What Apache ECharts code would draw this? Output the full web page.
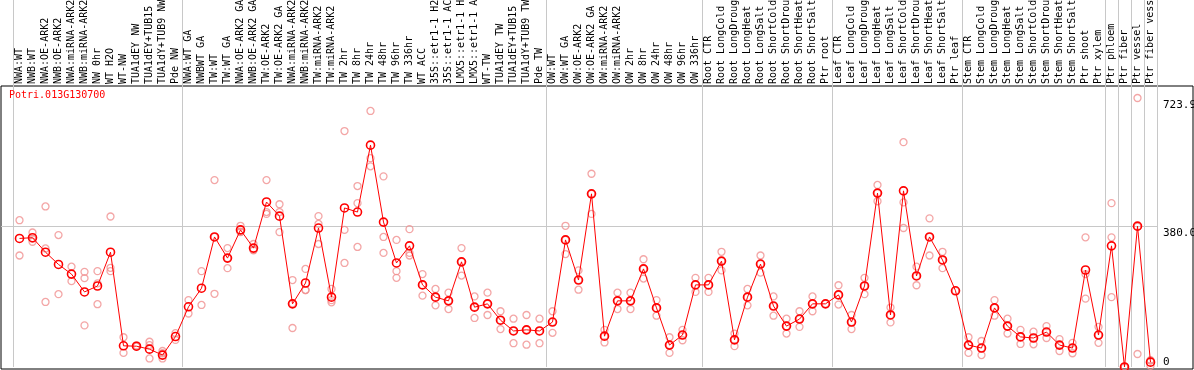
<!DOCTYPE html>
<html>
<head>
<meta charset="utf-8">
<script src="https://cdn.jsdelivr.net/npm/echarts@6/dist/echarts.min.js"></script>
<style>html,body{margin:0;padding:0;background:#fff}#c{width:1194px;height:370px}</style>
</head>
<body>
<div id="c"></div>
<script>
const geneId = 'Potri.013G130700';
const categories = [
 'NWA:WT','NWB:WT','NWA:OE-ARK2','NWB:OE-ARK2','NWA:miRNA-ARK2','NWB:miRNA-ARK2','NW 0hr','WT H2O','WT-NW','TUA1dEY NW','TUA1dEY+TUB15 NW','TUA1dY+TUB9 NW','Pde NW',
 'NWA:WT GA','NWBWT GA','TW:WT','TW:WT GA','NWA:OE-ARK2 GA','NWB:OE-ARK2 GA','TW:OE-ARK2','TW:OE-ARK2 GA','NWA:miRNA-ARK2 GA','NWB:miRNA-ARK2 GA','TW:miRNA-ARK2','TW:miRNA-ARK2 GA','TW 2hr','TW 8hr','TW 24hr','TW 48hr','TW 96hr','TW 336hr','WT ACC','35S::etr1-1 H2O','35S::etr1-1 ACC','LMX5::etr1-1 H2O','LMX5::etr1-1 ACC','WT-TW','TUA1dEY TW','TUA1dEY+TUB15 TW','TUA1dY+TUB9 TW','Pde TW',
 'OW:WT','OW:WT GA','OW:OE-ARK2','OW:OE-ARK2 GA','OW:miRNA-ARK2','OW:miRNA-ARK2 GA','OW 2hr','OW 8hr','OW 24hr','OW 48hr','OW 96hr','OW 336hr',
 'Root CTR','Root LongCold','Root LongDrought','Root LongHeat','Root LongSalt','Root ShortCold','Root ShortDrought','Root ShortHeat','Root ShortSalt','Ptr root',
 'Leaf CTR','Leaf LongCold','Leaf LongDrought','Leaf LongHeat','Leaf LongSalt','Leaf ShortCold','Leaf ShortDrought','Leaf ShortHeat','Leaf ShortSalt','Ptr leaf',
 'Stem CTR','Stem LongCold','Stem LongDrought','Stem LongHeat','Stem LongSalt','Stem ShortCold','Stem ShortDrought','Stem ShortHeat','Stem ShortSalt','Ptr shoot','Ptr xylem',
 'Ptr phloem','Ptr fiber','Ptr vessel','Ptr fiber vessel'
];
// indices of the first category of each group (grey separators)
const groupStarts = [0,13,41,53,63,73,84,85,86,87];
const yTicks = [0, 380, 723.9];

const means = [
 346,348,309,276,250,202,218,309,57,56,48,32,82,
 162,212,350,293,369,320,444,406,170,226,374,188,428,417,597,390,280,326,221,188,178,283,161,170,126,97,100,97,
 121,342,234,466,83,178,178,264,159,59,86,221,
 221,285,73,188,277,164,110,129,170,170,
 194,121,218,468,140,474,245,350,288,205,
 59,51,159,110,81,78,94,59,51,261,86,
 326,0,379,13
];
const replicates = [
 [395,300],[362,337,345],[432,319,175],[355,196],[270,231],[256,239,112],[258,225,169],[405,267,258],[80,38],[56,55,58],[68,59,23],[43,23,37],[91,73],
 [180,144],[258,167],[503,350,197],[320,293,266],[380,363,364],[331,315,314],[503,412,417],[438,363,417],[234,105,171],[264,207,207],[406,331,385],[210,180,174],[635,369,280],[487,323,441],[689,562,540],[350,307,513],[342,258,240],[371,307,300],[250,221,192],[210,188,166],[200,178,156],[320,283,246],[190,161,132],[200,170,140],[150,126,102],[130,97,64],[140,100,60],[130,97,64],
 [150,121,92],[380,342,304],[260,234,208],[520,466,412],[100,83,66],[200,178,156],[200,178,156],[290,264,238],[180,159,138],[80,59,38],[100,86,72],[240,221,202],
 [240,221,202],[310,285,260],[90,73,56],[210,188,166],[300,277,254],[190,164,138],[130,110,90],[150,129,108],[190,170,150],[170],
 [220,194,168],[140,121,102],[240,218,196],[490,468,446],[160,140,120],[605,443,374],[270,245,220],[400,350,300],[310,288,266],[205],
 [80,59,38],[70,51,32],[180,159,138],[130,110,90],[100,81,62],[95,78,61],[110,94,78],[75,59,43],[65,51,37],[349,250,184],[108,86,65],
 [441,349,188],[0,0,0],[723.9,378,35],[3,18,18]
];

const repData = [];
replicates.forEach((arr, i) => arr.forEach(v => repData.push([i, v])));

const mono = 'DejaVu Sans Mono';
const sepInterval = (idx) => groupStarts.indexOf(idx) >= 0;
const grey = '#c8c8c8';
const gridBase = {containLabel: false, outerBoundsMode: 'none'};

const chart = echarts.init(document.getElementById('c'), null, {renderer: 'canvas'});
chart.setOption({
  animation: false,
  backgroundColor: '#fff',
  title: {text: geneId, left: 9, top: 90, padding: 0,
    textStyle: {color: '#ff0000', fontSize: 10, fontWeight: 'normal', fontFamily: mono}},
  grid: [
    Object.assign({left: 13, width: 1144, top: 0, height: 98}, gridBase),
    Object.assign({left: 13, width: 1144, top: 98, height: 269}, gridBase),
    Object.assign({left: 1, width: 1156, top: 98, height: 269}, gridBase),
    Object.assign({left: 1, right: 1, top: 86, bottom: 1, show: true, borderColor: '#000', borderWidth: 1, backgroundColor: 'transparent'}, gridBase)
  ],
  xAxis: [
    {gridIndex: 0, type: 'category', data: categories, position: 'bottom',
      axisLine: {show: false}, axisTick: {show: false}, axisLabel: {show: false},
      splitLine: {show: true, interval: sepInterval, lineStyle: {color: grey, width: 1}}},
    {gridIndex: 1, type: 'category', data: categories, position: 'top',
      axisLine: {show: false}, axisTick: {show: false},
      axisLabel: {show: true, interval: 0, rotate: 90, margin: 14, color: '#000', fontSize: 10, fontFamily: mono, hideOverlap: false},
      splitLine: {show: true, interval: sepInterval, lineStyle: {color: grey, width: 1}}},
    {gridIndex: 2, type: 'value', show: false},
    {gridIndex: 3, type: 'value', show: false}
  ],
  yAxis: [
    {gridIndex: 0, type: 'value', show: false},
    {gridIndex: 1, type: 'value', min: yTicks[0], max: yTicks[2], show: false},
    {gridIndex: 2, type: 'value', position: 'right', min: yTicks[0], max: yTicks[2], interval: yTicks[1],
      axisLine: {show: false}, axisTick: {show: false},
      axisLabel: {show: true, margin: 6, color: '#000', fontSize: 11, fontFamily: mono,
        formatter: v => v === 0 ? '{b|0}' : '{a|' + v.toFixed(1) + '}',
        rich: {a: {padding: [14, 0, 0, 0], fontSize: 11, fontFamily: mono}, b: {padding: [0, 0, 10, 0], fontSize: 11, fontFamily: mono}}},
      splitLine: {show: true, lineStyle: {color: ['rgba(0,0,0,0)', grey, 'rgba(0,0,0,0)'], width: 1}}},
    {gridIndex: 3, type: 'value', show: false}
  ],
  series: [
    {type: 'scatter', xAxisIndex: 1, yAxisIndex: 1, data: repData, symbol: 'circle', symbolSize: 7,
      itemStyle: {color: 'rgba(0,0,0,0)', borderColor: '#f09090', borderWidth: 1.3}, z: 2, silent: true},
    {type: 'line', xAxisIndex: 1, yAxisIndex: 1, data: means, symbol: 'circle', symbolSize: 8,
      lineStyle: {color: '#ff0000', width: 1},
      itemStyle: {color: 'rgba(0,0,0,0)', borderColor: '#ff0000', borderWidth: 1.6}, z: 3, silent: true}
  ]
});
</script>
</body>
</html>
